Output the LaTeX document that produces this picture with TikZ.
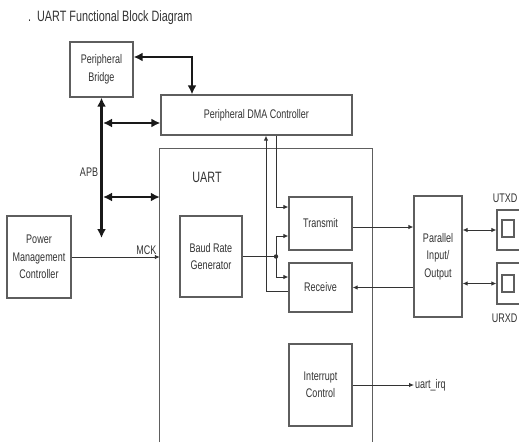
\documentclass[tikz,border=0pt]{standalone}
\usepackage{fontspec}
\setmainfont[FakeStretch=0.72]{Liberation Sans}
\usetikzlibrary{arrows.meta}
\definecolor{boxc}{HTML}{5E5E5E}
\definecolor{txtc}{HTML}{333333}
\begin{document}
\begin{tikzpicture}[x=1pt,y=-1pt,
  blk/.style={draw=boxc, line width=1.3pt, fill=white, align=center, text=txtc,
    font=\fontsize{12.5}{17.5}\selectfont, inner sep=1pt},
  lbl/.style={text=txtc, font=\fontsize{12.5}{15}\selectfont, inner sep=1pt},
  boxline/.style={draw=boxc, line width=1.3pt},
  thk/.style={line width=2.4pt, draw=black!90, {Latex[length=9pt,width=9pt]}-{Latex[length=9pt,width=9pt]}},
  thn/.style={line width=0.9pt, draw=txtc, -{Latex[length=5pt,width=4.5pt]}},
  thnb/.style={line width=0.9pt, draw=txtc, {Latex[length=5pt,width=4.5pt]}-{Latex[length=5pt,width=4.5pt]}},
  plain/.style={line width=0.9pt, draw=txtc}]
\useasboundingbox (0,0) rectangle (519,442);

% title
\node[lbl, anchor=west, font=\fontsize{15}{18}\selectfont] (title) at (27,18) {.\hspace{6pt}UART Functional Block Diagram};

% blocks
\node[blk, minimum width=63pt, minimum height=55pt] (bridge) at (101.5,69.5) {Peripheral\\Bridge};
\node[blk, minimum width=191pt, minimum height=40pt] (dma) at (256.5,115) {Peripheral DMA Controller};
\node[minimum width=212pt, minimum height=293pt, inner sep=0pt] (uart) at (266,295.5) {};
\draw[boxline] (uart.south west) |- (uart.north east) -- (uart.south east);
\node[lbl, font=\fontsize{15}{18}\selectfont] (uartlbl) at (207,177) {UART};
\node[blk, minimum width=62pt, minimum height=81pt] (baud) at (211,256.5) {Baud Rate\\Generator};
\node[blk, minimum width=63pt, minimum height=53pt] (tx) at (320.5,223.5) {Transmit};
\node[blk, minimum width=63pt, minimum height=49pt] (rx) at (320.5,287.5) {Receive};
\node[blk, minimum width=63pt, minimum height=82pt] (ic) at (320.5,385) {Interrupt\\Control};
\node[blk, minimum width=48pt, minimum height=121pt] (pio) at (438,256.5) {Parallel\\Input/\\Output};
\node[blk, minimum width=64pt, minimum height=82pt] (pmc) at (39,257) {Power\\Management\\Controller};

% pins
\node[blk, minimum width=34pt, minimum height=40pt] (utxd) at (514,230) {};
\node[blk, minimum width=12pt, minimum height=17pt] (utxdin) at (508,228.5) {};
\node[blk, minimum width=34pt, minimum height=41pt] (urxd) at (514,283.5) {};
\node[blk, minimum width=12pt, minimum height=17pt] (urxdin) at (508,283.5) {};
\node[lbl, anchor=east] (utxdlbl) at (518.5,198) {UTXD};
\node[lbl, anchor=east] (urxdlbl) at (518.5,318) {URXD};

% thick bus arrows
\draw[thk] ([yshift=12.5pt]bridge.east) -| ([xshift=-64.5pt]dma.north);
\coordinate (apbend) at (101.5,238);
\draw[thk] (bridge.south) -- (apbend);
\node[lbl] (apb) at (89,172) {APB};
\coordinate (b1) at (103,123);
\draw[thk] (b1) -- (b1 -| dma.west);
\coordinate (b2) at (103,197);
\draw[thk] (b2) -- (b2 -| uart.west);

% clock
\draw[thn] (pmc.east) -- (pmc.east -| uart.west) node[lbl, pos=1, above left, xshift=-2pt, yshift=1pt] (mck) {MCK};
\coordinate (j) at (276,256.5);
\draw[plain] (baud.east) -- (j);
\fill[txtc] (j) circle (2.2pt);
\draw[thn] (j) |- ([yshift=-12.5pt]tx.west);
\draw[thn] (j) |- ([yshift=10.5pt]rx.west);

% DMA links
\draw[thn] ([xshift=19.5pt]dma.south) |- ([yshift=16.5pt]tx.west);
\draw[thn] ([yshift=-3.5pt]rx.west) -| ([xshift=9.5pt]dma.south);

% data paths
\draw[thn] ([yshift=-3.5pt]tx.east) -- ([yshift=-3.5pt]tx.east -| pio.west);
\draw[thn] (pio.west |- rx.east) -- (rx.east);
\draw[thnb] (pio.east |- utxd.west) -- (utxd.west);
\draw[thnb] (pio.east |- urxd.west) -- (urxd.west);

% interrupt
\coordinate (irq) at (414,385);
\draw[thn] (ic.east) -- (irq);
\node[lbl, anchor=west] (irqlbl) at (irq) {uart\_irq};
\end{tikzpicture}
\end{document}
